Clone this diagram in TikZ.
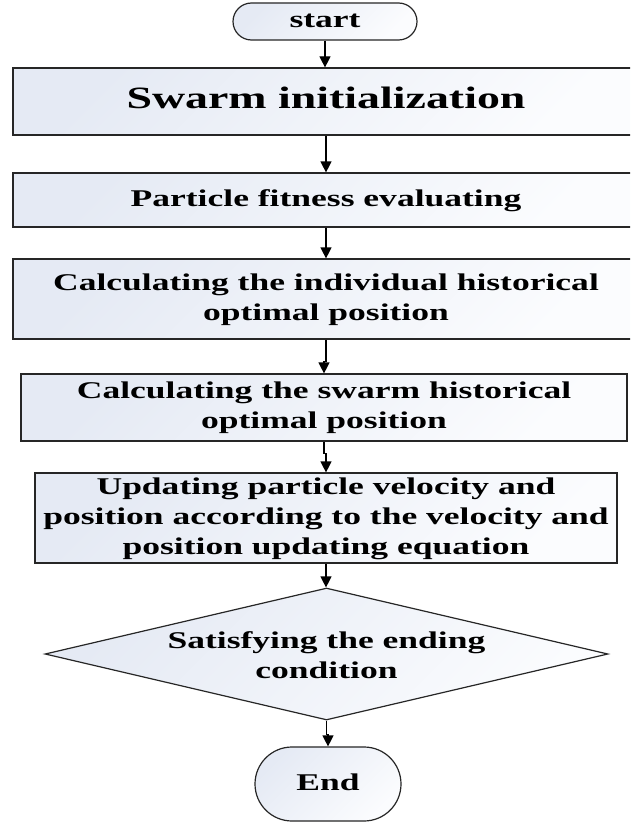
\documentclass[tikz,border=0pt]{standalone}
\usepackage{fontspec}
\setmainfont{Liberation Serif}
\usepackage{graphicx}
\usetikzlibrary{shapes.geometric,shapes.misc,arrows.meta}
\definecolor{fillA}{HTML}{E5EAF4}
\definecolor{fillB}{HTML}{FBFCFE}
\newcommand{\hstr}[1]{\scalebox{1.48}[1]{\begin{tabular}{@{}c@{}}#1\end{tabular}}}
\begin{document}
\begin{tikzpicture}[x=1pt,y=-1pt,
  base/.style={draw=black!85, line width=1.2pt, top color=fillA, bottom color=fillB,
    shading angle=45, inner sep=0pt, text=black,
    font=\fontsize{24}{30}\selectfont\bfseries},
  procbox/.style={base, rectangle},
  term/.style={base, rounded rectangle},
  decis/.style={base, diamond},
  label/.style={inner sep=0pt, text=black, font=\fontsize{24}{30}\selectfont\bfseries},
  flow/.style={line width=1.2pt, draw=black, -{Triangle[width=11pt,length=11pt]}}]
\clip (0,0) rectangle (630,824);
\fill[white] (0,0) rectangle (630,824);
\node[term, minimum width=184pt, minimum height=37pt] (start) at (325,21.5) {\hstr{start}};
\node[procbox, minimum width=626pt, minimum height=67pt,
      font=\fontsize{31}{37}\selectfont\bfseries] (init) at (326,101.5) {\hstr{Swarm initialization}};
\node[procbox, minimum width=626pt, minimum height=54pt] (fit) at (326,200) {\hstr{Particle fitness evaluating}};
\node[procbox, minimum width=626pt, minimum height=80pt] (pbest) at (326,299)
  {\hstr{Calculating the individual historical\\optimal position}};
\node[procbox, minimum width=606pt, minimum height=67pt] (gbest) at (324,407.5)
  {\hstr{Calculating the swarm historical\\optimal position}};
\node[procbox, minimum width=582pt, minimum height=88pt] (upd) at (326,518)
  {\hstr{Updating particle velocity and\\position according to the velocity and\\position updating equation}};
\node[decis, minimum width=563pt, minimum height=132pt] (cond) at (326.5,654) {};
\node[label] (condtxt) at (326.5,657) {\hstr{Satisfying the ending\\condition}};
\node[term, minimum width=146pt, minimum height=74pt] (endn) at (328,784) {\hstr{End}};
\draw[flow] (start.south) -- (start.south |- init.north);
\draw[flow] (init.south) -- (fit.north);
\draw[flow] (fit.south) -- (pbest.north);
\draw[flow] (pbest.south) -- ++(0,22) -| (gbest.north);
\draw[flow] (gbest.south) -- ++(0,12) -| (upd.north);
\draw[flow] (upd.south) -- (upd.south |- cond.north);
\draw[flow] (cond.south) -- ++(0,14) -| (endn.north);
\end{tikzpicture}
\end{document}
